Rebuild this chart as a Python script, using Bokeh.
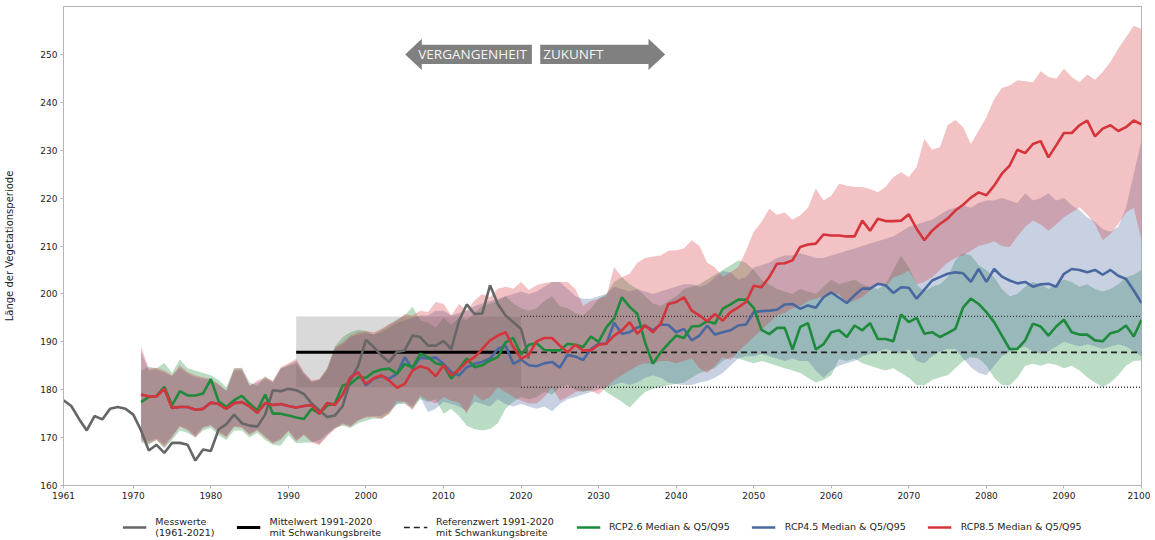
from bokeh.plotting import figure
from bokeh.layouts import column
from bokeh.models import Range1d, FixedTicker, Label, Legend, LegendItem
from bokeh.embed import file_html
from bokeh.resources import INLINE

# ---------------- data ----------------
obs_years = list(range(1961, 2022))
obs = [177.8, 176.6, 173.9, 171.5, 174.5, 173.8, 176.0, 176.4, 176.0, 174.8,
       171.5, 167.3, 168.5, 166.8, 168.9, 168.9, 168.5, 165.2, 167.5, 167.2,
       171.7, 172.8, 174.8, 173.0, 172.5, 172.3, 174.8, 179.9, 179.7, 180.2,
       179.9, 179.1, 177.1, 175.7, 174.3, 174.6, 176.6, 182.0, 185.0, 190.4,
       188.9, 187.1, 185.8, 187.9, 188.2, 191.3, 191.0, 189.2, 189.2, 190.2,
       188.5, 194.4, 197.8, 195.8, 195.9, 201.8, 197.9, 195.5, 194.1, 192.7,
       186.5]

years = list(range(1971, 2101))

g_med = [177.4, 178.5, 178.7, 180.6, 176.7, 179.7, 178.8, 178.8, 179.2, 182.2,
         177.6, 176.4, 177.8, 178.7, 177.1, 175.7, 179.0, 175.0, 175.0, 174.6,
         174.2, 173.9, 176.0, 175.0, 176.7, 177.1, 180.9, 181.2, 182.6, 182.5,
         183.7, 184.2, 184.4, 183.3, 185.4, 184.6, 187.5, 186.8, 185.5, 185.1,
         182.3, 184.4, 186.5, 184.7, 185.1, 186.1, 186.8, 189.9, 190.8, 187.3,
         189.4, 189.7, 188.3, 188.2, 188.2, 189.6, 189.4, 188.9, 191.1, 190.0,
         193.0, 194.9, 199.3, 197.3, 195.8, 189.8, 185.4, 187.8, 189.6, 191.3,
         190.8, 193.2, 193.3, 194.3, 193.8, 196.9, 197.8, 198.8, 198.8, 197.1,
         192.5, 191.6, 192.9, 192.9, 188.4, 193.1, 193.9, 188.4, 189.5, 192.0,
         192.4, 191.0, 193.4, 192.4, 193.9, 190.6, 190.6, 190.1, 195.7, 194.1,
         195.0, 191.7, 192.0, 191.0, 191.8, 192.7, 197.2, 199.0, 197.9, 196.2,
         194.1, 191.3, 188.5, 188.5, 190.3, 193.8, 193.2, 191.3, 193.2, 194.6,
         192.0, 191.5, 191.5, 190.3, 190.1, 191.8, 192.2, 193.4, 191.1, 194.6]
g_lo = [169.0, 168.5, 169.5, 167.8, 169.5, 171.5, 171.0, 170.0, 171.5, 172.0,
        170.5, 169.5, 171.5, 171.5, 170.0, 171.0, 169.5, 168.5, 168.3, 170.5,
        168.8, 169.0, 169.0, 169.5, 170.8, 172.0, 172.5, 172.0, 173.0, 173.5,
        174.0, 174.0, 175.0, 177.0, 177.0, 176.0, 178.0, 177.5, 178.0, 175.0,
        176.0, 174.5, 172.5, 171.8, 171.5, 171.8, 173.0, 176.0, 177.5, 178.5,
        178.0, 178.5, 179.5, 179.0, 180.5, 181.0, 180.0, 179.5, 180.0, 181.0,
        179.5, 178.5, 177.5, 176.3, 178.0, 179.5, 180.2, 180.5, 181.0, 181.2,
        181.5, 182.5, 183.5, 184.0, 184.5, 186.0, 186.8, 186.5, 186.0, 185.5,
        186.0, 185.5, 185.0, 184.5, 184.0, 183.5, 182.5, 181.5, 182.0, 183.0,
        186.4, 186.0, 186.5, 185.5, 185.0, 184.5, 184.0, 184.5, 183.5, 182.5,
        181.0, 180.9, 182.0, 182.6, 183.0, 184.5, 186.0, 186.8, 186.5, 185.0,
        182.5, 181.0, 180.9, 182.5, 185.0, 185.4, 185.0, 185.5, 185.2, 184.5,
        185.0, 184.0, 182.6, 181.5, 180.5, 181.5, 183.0, 185.0, 186.0, 186.1]
g_hi = [184.0, 184.8, 184.5, 185.6, 183.5, 186.3, 184.5, 184.0, 183.5, 183.0,
        182.0, 180.5, 184.5, 184.6, 181.5, 180.8, 182.8, 181.5, 184.5, 185.0,
        185.5, 183.0, 181.5, 182.0, 184.5, 189.0, 191.0, 192.0, 192.5, 192.3,
        191.5, 192.5, 193.5, 194.7, 195.5, 197.3, 194.5, 194.0, 193.0, 195.0,
        193.5, 195.0, 194.5, 196.0, 197.5, 198.0, 198.5, 199.5, 198.0, 197.0,
        196.5, 197.0, 198.5, 199.5, 197.5, 197.0, 196.0, 195.5, 197.0, 199.0,
        200.0, 202.5, 203.5, 202.0, 201.0, 199.5, 198.0, 197.5, 198.5, 199.5,
        201.0, 201.5, 202.0, 203.0, 204.0, 205.0, 206.0, 207.0, 206.5, 205.0,
        203.0, 202.0, 201.0, 200.5, 200.0, 201.0, 200.5, 200.0, 201.5, 203.0,
        202.0, 202.5, 203.0, 202.0, 201.5, 201.0, 202.0, 205.0, 208.0, 205.5,
        202.0, 200.5, 201.5, 202.0, 203.5, 207.0, 208.5, 208.0, 206.0, 205.0,
        203.5, 201.0, 199.5, 200.0, 201.5, 202.5, 202.0, 201.0, 202.0, 203.0,
        202.5, 201.5, 202.0, 201.0, 200.5, 201.0, 202.0, 203.5, 204.0, 205.0]

b_med = [179.0, 178.6, 178.6, 180.2, 176.2, 176.4, 176.4, 175.8, 176.0, 177.3,
         177.0, 176.0, 177.2, 177.4, 176.5, 175.2, 177.2, 176.8, 177.0, 176.6,
         176.3, 176.6, 176.8, 175.0, 177.2, 176.8, 179.0, 182.6, 183.6, 180.9,
         182.3, 182.8, 182.3, 183.3, 186.8, 184.4, 186.7, 186.5, 186.7, 185.4,
         183.7, 183.0, 184.7, 185.4, 185.8, 186.5, 188.5, 189.2, 185.4, 186.3,
         185.1, 184.9, 185.5, 185.8, 184.6, 187.3, 186.9, 186.2, 188.5, 189.6,
         189.6, 194.0, 191.7, 192.0, 193.0, 193.4, 192.4, 193.6, 193.5, 192.0,
         192.7, 190.3, 191.3, 193.4, 191.5, 192.0, 192.4, 193.4, 193.6, 196.2,
         196.4, 196.5, 196.7, 197.8, 197.9, 196.9, 197.6, 197.1, 199.3, 200.3,
         199.2, 198.1, 199.7, 201.1, 201.1, 202.1, 201.8, 200.2, 201.4, 201.3,
         199.0, 200.9, 202.8, 203.5, 204.2, 204.5, 204.3, 202.5, 205.2, 202.5,
         205.2, 203.6, 202.8, 202.2, 202.5, 201.5, 202.0, 202.1, 201.5, 204.2,
         205.2, 205.0, 204.5, 205.0, 204.0, 205.0, 203.8, 203.1, 200.7, 198.1]
b_lo = [170.0, 169.2, 169.8, 168.5, 170.3, 172.5, 171.8, 170.4, 172.2, 172.7,
        171.3, 170.3, 172.4, 172.2, 170.8, 171.7, 170.3, 169.0, 169.8, 171.5,
        169.5, 170.7, 169.3, 168.7, 170.5, 172.0, 173.0, 172.5, 173.7, 174.4,
        174.5, 174.5, 175.5, 177.0, 177.5, 176.5, 178.5, 175.3, 176.0, 177.5,
        177.0, 176.5, 175.5, 177.5, 177.0, 176.5, 178.0, 177.0, 176.5, 177.0,
        176.5, 176.0, 176.5, 175.5, 177.0, 178.0, 178.5, 179.0, 179.5, 180.0,
        180.5, 181.0, 181.5, 181.0, 181.5, 182.5, 183.0, 182.5, 181.5, 181.2,
        181.0, 181.0, 181.5, 181.8, 182.5, 183.5, 185.0, 186.5, 187.0, 187.0,
        187.5, 187.0, 186.5, 186.0, 186.5, 186.0, 186.0, 184.0, 182.5, 184.0,
        185.0, 185.5, 186.0, 187.0, 187.5, 188.0, 188.5, 188.0, 187.5, 188.5,
        186.0, 185.5, 187.0, 188.0, 188.5, 188.5, 186.5, 184.7, 183.5, 183.0,
        185.0, 187.0, 188.0, 188.5, 189.0, 188.0, 187.5, 188.0, 189.0, 190.0,
        189.5, 189.0, 189.5, 189.0, 188.5, 189.0, 189.5, 189.0, 188.0, 187.0]
b_hi = [188.0, 184.0, 184.2, 183.6, 182.8, 184.6, 183.4, 182.6, 182.3, 182.0,
        181.0, 179.8, 184.0, 184.0, 180.8, 181.5, 182.3, 181.6, 184.3, 185.2,
        186.0, 183.5, 181.8, 182.0, 184.0, 188.5, 189.5, 191.0, 191.5, 191.8,
        191.5, 192.0, 193.0, 194.0, 194.5, 195.0, 195.5, 195.5, 196.5, 196.5,
        195.5, 196.0, 196.5, 197.5, 198.0, 198.5, 199.0, 199.5, 200.0, 200.5,
        200.0, 200.5, 201.5, 202.5, 202.5, 201.0, 199.5, 199.0, 199.0, 199.5,
        200.0, 201.5, 201.0, 200.5, 201.0, 200.5, 200.0, 200.5, 201.0, 201.5,
        202.0, 202.0, 201.5, 202.0, 203.5, 204.8, 204.5, 203.0, 203.5, 205.5,
        206.0, 206.5, 207.5, 208.0, 208.0, 208.5, 208.0, 207.5, 207.5, 208.0,
        208.5, 209.0, 209.5, 210.0, 210.5, 211.0, 211.5, 212.0, 213.0, 214.0,
        214.5, 215.0, 215.5, 216.5, 217.5, 218.0, 218.5, 218.0, 219.0, 219.5,
        219.5, 220.0, 219.5, 219.0, 221.0, 219.5, 220.0, 221.0, 219.5, 220.0,
        218.5, 217.5, 216.0, 215.0, 213.5, 213.0, 214.0, 218.0, 225.0, 232.0]

r_med = [179.0, 178.6, 178.6, 180.2, 176.2, 176.4, 176.4, 175.8, 176.0, 177.3,
         177.0, 176.0, 177.2, 177.4, 176.5, 175.2, 177.2, 176.8, 177.0, 176.6,
         176.3, 176.6, 176.8, 175.0, 177.2, 176.8, 179.0, 182.6, 183.6, 181.2,
         182.4, 183.0, 181.9, 180.4, 181.2, 184.0, 184.9, 184.4, 182.8, 185.1,
         183.0, 184.2, 185.8, 186.8, 188.5, 190.3, 191.3, 192.0, 188.9, 186.5,
         187.3, 190.1, 190.8, 190.8, 189.2, 187.8, 189.4, 188.2, 188.2, 189.4,
         189.6, 191.3, 192.4, 194.1, 191.7, 193.4, 192.0, 193.8, 197.9, 198.3,
         199.3, 196.5, 195.5, 194.3, 195.8, 194.4, 196.2, 197.2, 198.3, 201.7,
         201.4, 203.5, 206.3, 206.4, 207.0, 209.8, 210.3, 210.5, 212.4, 212.2,
         212.2, 212.0, 212.0, 215.3, 213.2, 215.7, 215.2, 215.2, 215.3, 216.6,
         213.6, 211.2, 213.2, 214.6, 215.7, 217.4, 218.6, 220.1, 221.2, 220.6,
         222.6, 225.1, 226.8, 230.1, 229.4, 231.3, 231.9, 228.5, 231.0, 233.6,
         233.6, 235.2, 236.2, 232.9, 234.5, 235.2, 234.0, 234.8, 236.2, 235.4]
r_lo = [169.5, 168.8, 169.5, 168.0, 170.0, 172.3, 171.5, 170.0, 172.0, 172.5,
        171.0, 170.0, 172.2, 172.0, 170.5, 171.5, 170.0, 168.7, 169.5, 171.3,
        169.2, 170.5, 169.0, 168.4, 170.3, 171.8, 172.8, 172.2, 173.5, 174.2,
        174.3, 173.9, 175.0, 177.7, 177.4, 175.7, 178.8, 177.7, 177.1, 178.5,
        177.7, 177.4, 175.0, 179.1, 177.7, 178.5, 180.5, 179.5, 178.5, 177.7,
        177.1, 177.1, 178.5, 180.5, 177.7, 178.5, 179.5, 179.8, 179.8, 179.0,
        180.5, 182.0, 183.0, 184.0, 185.0, 185.5, 185.4, 186.0, 186.0, 185.5,
        186.0, 186.5, 184.5, 183.5, 185.0, 186.8, 186.2, 188.0, 189.5, 191.0,
        192.5, 194.0, 195.5, 196.0, 197.0, 197.5, 198.5, 199.0, 199.5, 200.0,
        200.0, 198.0, 198.6, 199.3, 200.7, 202.1, 201.4, 203.5, 204.0, 204.9,
        202.0, 202.5, 203.5, 205.0, 206.5, 207.5, 208.0, 209.0, 210.0, 210.4,
        211.0, 210.0, 209.8, 212.0, 214.0, 215.3, 214.5, 213.2, 214.5, 216.0,
        217.0, 218.1, 216.5, 214.6, 211.2, 212.5, 214.6, 217.0, 218.0, 211.1]
r_hi = [189.0, 184.4, 184.6, 184.0, 183.0, 185.1, 183.7, 183.0, 182.6, 182.3,
        181.2, 179.8, 184.4, 184.4, 180.9, 181.9, 182.6, 181.9, 184.7, 185.5,
        186.4, 183.7, 181.9, 182.3, 184.4, 188.9, 189.9, 191.3, 192.0, 192.2,
        192.0, 192.7, 193.7, 194.4, 195.8, 195.5, 196.5, 196.2, 198.3, 197.9,
        195.5, 197.9, 196.5, 198.6, 200.0, 199.3, 201.1, 201.5, 201.1, 202.5,
        200.8, 201.8, 202.3, 202.5, 202.5, 202.5, 201.0, 197.5, 198.5, 199.0,
        199.5, 205.6, 203.5, 204.2, 206.5, 207.5, 207.8, 208.0, 209.0, 209.1,
        209.5, 211.2, 210.0, 206.5, 205.5, 203.6, 204.5, 205.6, 209.0, 213.0,
        215.0, 217.8, 216.5, 217.0, 215.5, 216.4, 218.0, 222.0, 219.5, 220.5,
        223.0, 222.6, 222.3, 222.3, 221.9, 221.2, 222.3, 224.4, 225.4, 224.4,
        226.5, 232.4, 230.1, 230.6, 235.2, 236.3, 234.8, 231.3, 234.1, 236.9,
        240.7, 243.0, 243.5, 244.6, 244.4, 244.2, 246.5, 245.3, 244.9, 247.0,
        245.3, 244.2, 245.8, 244.7, 246.3, 248.4, 251.2, 253.6, 256.0, 255.3]

ref_start, ref_end, fut_end = 1991, 2020, 2100
ref_mean, ref_q5, ref_q95 = 187.8, 180.5, 195.3
ref_label = "187"
x_ticks = [1961, 1970, 1980, 1990, 2000, 2010, 2020, 2030, 2040, 2050,
           2060, 2070, 2080, 2090, 2100]
y_ticks = [160, 170, 180, 190, 200, 210, 220, 230, 240, 250]
legend_labels = ["Messwerte\n(1961-2021)",
                 "Mittelwert 1991-2020\nmit Schwankungsbreite",
                 "Referenzwert 1991-2020\nmit Schwankungsbreite",
                 "RCP2.6 Median & Q5/Q95",
                 "RCP4.5 Median & Q5/Q95",
                 "RCP8.5 Median & Q5/Q95"]

# ---------------- styling ----------------
C_OBS = "#666666"
C_G = "#1e8a3c"
C_B = "#4a68a0"
C_R = "#d5343a"
FONT = "DejaVu Sans"
BAND_ALPHA = 0.3
W = 1150

p = figure(width=W, height=505, x_range=Range1d(1961, 2100), y_range=Range1d(160, 260),
           output_backend="svg", toolbar_location=None,
           min_border_left=63, min_border_right=9, min_border_top=6, min_border_bottom=20)
p.background_fill_color = "white"
p.border_fill_color = "white"
p.outline_line_color = "#b5b5b5"
p.xgrid.visible = False
p.ygrid.visible = False

for ax in (p.xaxis[0], p.yaxis[0]):
    ax.axis_line_color = "#b5b5b5"
    ax.major_tick_line_color = "#b5b5b5"
    ax.minor_tick_line_color = None
    ax.major_tick_in = 0
    ax.major_tick_out = 3
    ax.major_label_text_font = FONT
    ax.major_label_text_font_size = "9px"
    ax.major_label_text_color = "#222222"
    ax.major_label_standoff = 3
p.xaxis.ticker = FixedTicker(ticks=x_ticks)
p.yaxis.ticker = FixedTicker(ticks=y_ticks)
p.yaxis.axis_label = "Länge der Vegetationsperiode"
p.yaxis.axis_label_text_font = FONT
p.yaxis.axis_label_text_font_size = "10px"
p.yaxis.axis_label_text_font_style = "normal"
p.yaxis.axis_label_text_color = "#222222"
p.yaxis.axis_label_standoff = 22

# reference box
p.quad(left=ref_start, right=ref_end, bottom=ref_q5, top=ref_q95,
       fill_color="#808080", fill_alpha=0.3, line_color=None)

# bands
p.varea(x=years, y1=g_lo, y2=g_hi, fill_color=C_G, fill_alpha=BAND_ALPHA)
p.varea(x=years, y1=b_lo, y2=b_hi, fill_color=C_B, fill_alpha=BAND_ALPHA)
p.varea(x=years, y1=r_lo, y2=r_hi, fill_color=C_R, fill_alpha=BAND_ALPHA)

# reference lines
p.line([ref_start, ref_end], [ref_mean, ref_mean], line_color="black", line_width=3)
p.line([ref_end, fut_end], [ref_mean, ref_mean], line_color="#222222",
       line_width=1.6, line_dash="6 4")
p.line([ref_end, fut_end], [ref_q95, ref_q95], line_color="#333333", line_width=1.4, line_dash="1 2")
p.line([ref_end, fut_end], [ref_q5, ref_q5], line_color="#333333", line_width=1.4, line_dash="1 2")

# observations and medians
p.line(obs_years, obs, line_color=C_OBS, line_width=2.6)
p.line(years, b_med, line_color=C_B, line_width=2.6)
p.line(years, g_med, line_color=C_G, line_width=2.6)
p.line(years, r_med, line_color=C_R, line_width=2.6)

# arrows (past / future)
ay = 250.0
body_h, head_h = 2.0, 3.25
past_tip, past_head, past_end = 2005.06, 2007.2, 2021.4
fut_start, fut_head, fut_tip = 2022.47, 2036.43, 2038.58
p.patch([past_tip, past_head, past_head, past_end, past_end, past_head, past_head],
        [ay, ay + head_h, ay + body_h, ay + body_h, ay - body_h, ay - body_h, ay - head_h],
        fill_color="#808080", line_color=None)
p.patch([fut_start, fut_head, fut_head, fut_tip, fut_head, fut_head, fut_start],
        [ay + body_h, ay + body_h, ay + head_h, ay, ay - head_h, ay - body_h, ay - body_h],
        fill_color="#808080", line_color=None)
p.add_layout(Label(x=2006.75, y=ay, text="VERGANGENHEIT", text_color="#f4f4f4",
                   text_font="Open Sans", text_font_size="13.5px",
                   text_align="left", text_baseline="middle"))
p.add_layout(Label(x=2022.85, y=ay, text="ZUKUNFT", text_color="#f4f4f4",
                   text_font="Open Sans", text_font_size="13.5px",
                   text_align="left", text_baseline="middle"))

# special labels
p.add_layout(Label(x=1961, y=ref_mean, text=ref_label, x_offset=-8, text_align="right",
                   text_baseline="middle", text_font=FONT, text_font_size="11px",
                   text_font_style="bold", text_color="black"))
p.add_layout(Label(x=1961, y=260, text="[Tage]", x_offset=-11, y_offset=-2,
                   text_align="right", text_baseline="top", text_font=FONT,
                   text_font_size="8px", text_color="#222222"))

# ---------------- legend (separate strip) ----------------
lg = figure(width=W, height=35, x_range=Range1d(0, 1), y_range=Range1d(0, 1),
            output_backend="svg", toolbar_location=None,
            min_border_left=63, min_border_right=9, min_border_top=8, min_border_bottom=0)
lg.axis.visible = False
lg.grid.visible = False
lg.outline_line_color = None
lg.background_fill_color = "white"
lg.border_fill_color = "white"
styles = [dict(line_color=C_OBS, line_width=2.6),
          dict(line_color="black", line_width=3),
          dict(line_color="#222222", line_width=1.6, line_dash="6 4"),
          dict(line_color=C_G, line_width=2.6),
          dict(line_color=C_B, line_width=2.6),
          dict(line_color=C_R, line_width=2.6)]
items = []
for lab, st in zip(legend_labels, styles):
    # legend proxies drawn outside the visible range
    rr = lg.line([-5, -4], [-5, -4], **st)
    items.append(LegendItem(label=lab, renderers=[rr]))
legend = Legend(items=items, orientation="horizontal", location="center",
                label_text_font=FONT, label_text_font_size="9.5px",
                label_text_color="#222222", glyph_width=24, spacing=22,
                label_standoff=9, border_line_color=None, padding=0, margin=0,
                background_fill_alpha=0)
lg.add_layout(legend, "center")

layout = column(p, lg, spacing=0)
open("out.html", "w").write(file_html(layout, INLINE))
